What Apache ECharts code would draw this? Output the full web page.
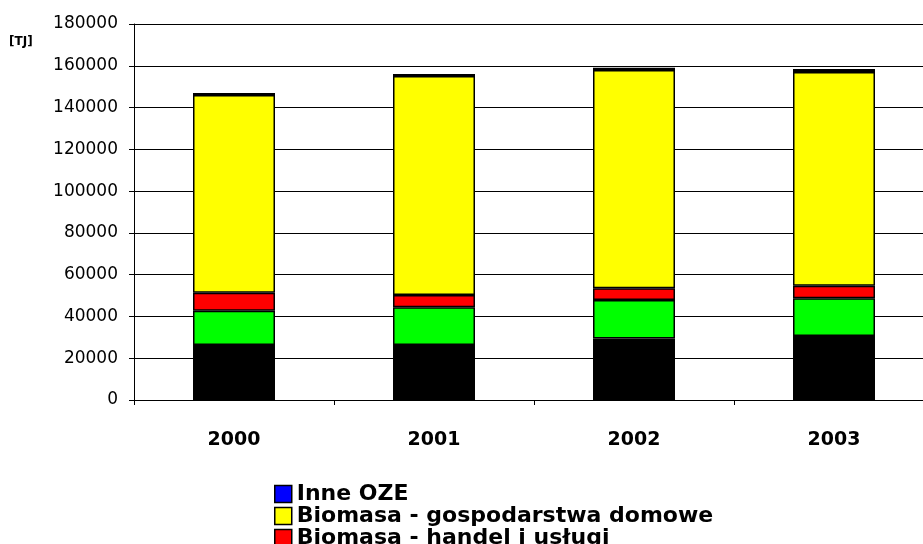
<!DOCTYPE html>
<html>
<head>
<meta charset="utf-8">
<script src="https://cdn.jsdelivr.net/npm/echarts@6/dist/echarts.min.js"></script>
<style>
  html, body { margin: 0; padding: 0; background: #fff; overflow: hidden; }
  #chart { width: 960px; height: 544px; }
</style>
</head>
<body>
<div id="chart"></div>
<script>
const years = ['2000', '2001', '2002', '2003'];

// values in TJ (stack order bottom -> top)
const seriesBlack = [26300, 26300, 29500, 30600];
const seriesGreen = [16400, 18100, 18400, 18100];
const handel = [8700, 5900, 5600, 6000];
const gospodarstwa = [94600, 104800, 104500, 102300];
const inneOze = [1000, 1000, 1000, 1400];

const legendNames = ['Inne OZE', 'Biomasa - gospodarstwa domowe', 'Biomasa - handel i usługi'];

const chart = echarts.init(document.getElementById('chart'), null, { renderer: 'canvas' });

const font = '"DejaVu Sans", sans-serif';

// common bar look: black outline like the original
const bar = (name, data, color) => ({
  name,
  type: 'bar',
  stack: 'total',
  barWidth: '41%',
  data,
  itemStyle: { color, borderColor: '#000', borderWidth: 1.5 }
});

// one legend per row so the rows never wrap into columns
const legendRow = (name, top) => ({
  orient: 'vertical',
  left: 269,
  top,
  itemWidth: 17,
  itemHeight: 17,
  icon: 'rect',
  data: [name],
  textStyle: { fontFamily: font, fontSize: 22, fontWeight: 'bold', color: '#000', lineHeight: 20 },
  itemStyle: { borderColor: '#000', borderWidth: 1.5 }
});

const option = {
  animation: false,
  backgroundColor: '#fff',
  textStyle: { fontFamily: font },
  grid: { left: 134, top: 24, width: 800, height: 376, outerBoundsMode: 'none' },
  graphic: [
    {
      type: 'text',
      left: 9,
      top: 36,
      style: { text: '[TJ]', font: 'bold 12px ' + font, fill: '#000' }
    }
  ],
  legend: legendNames.map((n, i) => legendRow(n, 478 + i * 22)),
  xAxis: {
    type: 'category',
    data: years,
    axisLine: { lineStyle: { color: '#000', width: 1 } },
    axisTick: { show: true, length: 5, lineStyle: { color: '#000' } },
    axisLabel: { color: '#000', fontSize: 19, fontWeight: 'bold', fontFamily: font, margin: 31 }
  },
  yAxis: {
    type: 'value',
    min: 0,
    max: 180000,
    interval: 20000,
    axisLine: { show: true, lineStyle: { color: '#000', width: 1 } },
    axisTick: { show: true, length: 5, lineStyle: { color: '#000' } },
    axisLabel: { color: '#000', fontSize: 17, fontFamily: font, margin: 16, formatter: v => String(v) },
    splitLine: { show: true, lineStyle: { color: '#000', width: 1 } }
  },
  series: [
    bar('Biomasa - drewno', seriesBlack, '#000000'),
    bar('Biomasa - przemysł', seriesGreen, '#00ff00'),
    bar('Biomasa - handel i usługi', handel, '#ff0000'),
    bar('Biomasa - gospodarstwa domowe', gospodarstwa, '#ffff00'),
    bar('Inne OZE', inneOze, '#0000ff')
  ]
};

chart.setOption(option);
</script>
</body>
</html>
